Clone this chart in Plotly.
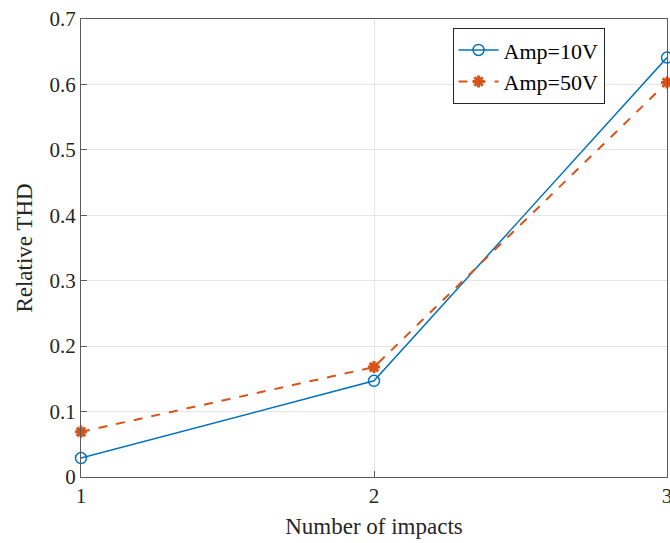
import plotly.graph_objects as go

impacts = [1, 2, 3]
amp10 = [0.029, 0.147, 0.641]
amp50 = [0.069, 0.168, 0.603]
x_ticks = [1, 2, 3]
y_ticks = [0, 0.1, 0.2, 0.3, 0.4, 0.5, 0.6, 0.7]

SERIF = "Liberation Serif"

fig = go.Figure()
fig.add_trace(go.Scatter(
    x=impacts, y=amp10, mode="lines+markers", name="Amp=10V",
    line=dict(color="#0072BD", width=1.5),
    marker=dict(symbol="circle-open", size=11, color="#0072BD", line=dict(width=1.5)),
    cliponaxis=False,
))
fig.add_trace(go.Scatter(
    x=impacts, y=amp50, mode="lines+markers", name="Amp=50V",
    line=dict(color="#D95319", width=2, dash="dash"),
    marker=dict(symbol="asterisk-open", size=10, color="#D95319", line=dict(width=3, color="#D95319")),
    cliponaxis=False,
))

axis_common = dict(
    showgrid=True, gridcolor="#E5E5E5", gridwidth=1,
    showline=True, linecolor="#5a5a5a", linewidth=1.2, mirror=True,
    ticks="inside", ticklen=6, tickcolor="#5a5a5a",
    tickfont=dict(family=SERIF, size=21, color="#262626"),
    ticklabeloverflow="allow",
    automargin=False,
    zeroline=False,
)

fig.update_layout(
    width=670, height=543,
    margin=dict(l=81, r=3, t=19, b=66),
    paper_bgcolor="white", plot_bgcolor="white",
    font=dict(family=SERIF, color="#262626"),
    xaxis=dict(range=[1, 3], tickvals=x_ticks, ticktext=[str(v) for v in x_ticks],
               title=dict(text="Number of impacts", font=dict(family=SERIF, size=23, color="#262626"), standoff=10),
               **axis_common),
    yaxis=dict(range=[0, 0.7], tickvals=y_ticks, ticktext=["0" if v == 0 else f"{v:g}" for v in y_ticks],
               title=dict(text="Relative THD", font=dict(family=SERIF, size=23, color="#262626"), standoff=10),
               **axis_common),
    legend=dict(x=0.634, y=0.98, xanchor="left", yanchor="top",
                bgcolor="white", bordercolor="#262626", borderwidth=1,
                font=dict(size=22, family=SERIF, color="#000000"),
                tracegroupgap=0, itemwidth=40),
    showlegend=True,
)

fig.write_html("out.html")
